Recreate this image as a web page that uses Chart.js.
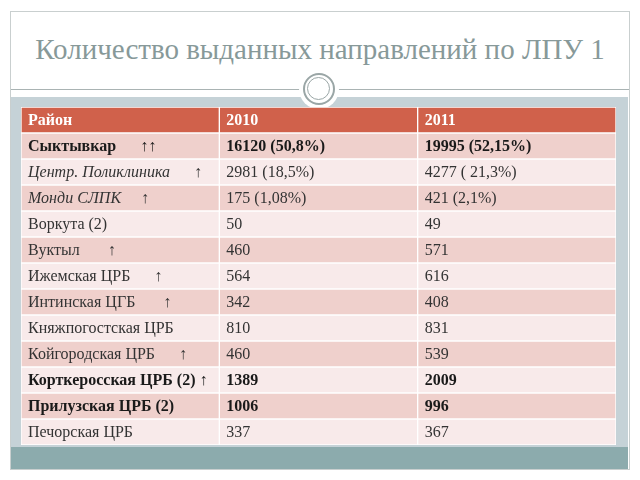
<!DOCTYPE html>
<html lang="ru">
<head>
    <meta charset="UTF-8">
    <title>Количество выданных направлений по ЛПУ 1</title>
    <script src="https://cdn.jsdelivr.net/npm/chart.js"></script>
    <style>
        body { margin: 0; width: 640px; height: 480px; background: #fff; overflow: hidden; position: relative; font-family: "Liberation Serif", serif; }
        .frame { position: absolute; left: 10px; top: 11px; width: 618px; height: 457px; border: 1px solid #c9cfcf; }
        .title { position: absolute; left: 0; top: 33px; width: 640px; text-align: center; font-size: 29px; color: #879999; white-space: nowrap; }
        .rule { position: absolute; left: 11px; top: 89px; width: 618px; height: 1px; background: #a9b3b3; }
        .panel { position: absolute; left: 11px; top: 97px; width: 617px; height: 350px; background: #c5d2d7; }
        .footer { position: absolute; left: 11px; top: 447px; width: 617px; height: 22px; background: #8cabad; }
        .halo { position: absolute; left: 299px; top: 69px; width: 40px; height: 40px; border-radius: 50%; background: #fff; }
        .ring { position: absolute; left: 303px; top: 73px; width: 28px; height: 28px; border-radius: 50%; border: 2px solid #9aa6a6; }
        .ring2 { position: absolute; left: 307px; top: 77px; width: 21px; height: 21px; border-radius: 50%; border: 1.5px solid #9aa6a6; }
        .table-box { position: absolute; left: 21px; top: 107px; width: 595px; height: 338px; }
    </style>
</head>
<body>
    <div class="frame"></div>
    <div class="title">Количество выданных направлений по ЛПУ 1</div>
    <div class="panel"></div>
    <div class="footer"></div>
    <div class="rule"></div>
    <div class="halo"></div>
    <div class="ring"></div>
    <div class="ring2"></div>
    <div class="table-box"><canvas id="tableChart"></canvas></div>

    <script>
        // table contents
        const headers = ['Район', '2010', '2011'];
        const districts = [
            'Сыктывкар      ↑↑',
            'Центр. Поликлиника      ↑',
            'Монди СЛПК     ↑',
            'Воркута (2)',
            'Вуктыл       ↑',
            'Ижемская ЦРБ      ↑',
            'Интинская ЦГБ       ↑',
            'Княжпогостская ЦРБ',
            'Койгородская ЦРБ      ↑',
            'Корткеросская ЦРБ (2) ↑',
            'Прилузская ЦРБ (2)',
            'Печорская ЦРБ'
        ];
        const values2010 = ['16120 (50,8%)', '2981 (18,5%)', '175 (1,08%)', '50', '460', '564', '342', '810', '460', '1389', '1006', '337'];
        const values2011 = ['19995 (52,15%)', '4277 ( 21,3%)', '421 (2,1%)', '49', '571', '616', '408', '831', '539', '2009', '996', '367'];
        const boldRows = [0, 9, 10];
        const italicRows = [1, 2];

        const rowLabels = ['header'].concat(districts.map((d, i) => 'r' + i));
        const columns = [headers[0], headers[1], headers[2]];
        const cellText = [
            [headers[0]].concat(districts),
            [headers[1]].concat(values2010),
            [headers[2]].concat(values2011)
        ];

        const rowColor = (i) => i === 0 ? '#d0614b' : (i % 2 === 1 ? '#efd0cc' : '#f8eaea');

        const cellTextPlugin = {
            id: 'cellText',
            afterDatasetsDraw(chart) {
                const ctx = chart.ctx;
                ctx.save();
                ctx.textBaseline = 'middle';
                ctx.textAlign = 'left';
                chart.data.datasets.forEach((ds, c) => {
                    const meta = chart.getDatasetMeta(c);
                    meta.data.forEach((bar, r) => {
                        const left = Math.min(bar.x, bar.base);
                        const dataRow = r - 1;
                        let weight = '';
                        let style = '';
                        if (r === 0 || boldRows.includes(dataRow)) weight = 'bold ';
                        if (c === 0 && italicRows.includes(dataRow)) style = 'italic ';
                        ctx.font = style + weight + '16px "Liberation Serif", serif';
                        ctx.fillStyle = r === 0 ? '#ffffff' : (weight ? '#1a1a1a' : '#333333');
                        ctx.fillText(cellText[c][r], left + 7, bar.y + 1);
                    });
                });
                ctx.restore();
            }
        };

        new Chart(document.getElementById('tableChart'), {
            type: 'bar',
            data: {
                labels: rowLabels,
                datasets: columns.map((name, c) => ({
                    label: name,
                    data: rowLabels.map(() => [c, c + 1]),
                    backgroundColor: rowLabels.map((l, i) => rowColor(i)),
                    borderColor: '#ffffff',
                    borderWidth: 1,
                    borderSkipped: false,
                    barPercentage: 1,
                    categoryPercentage: 1,
                    grouped: false
                }))
            },
            options: {
                indexAxis: 'y',
                responsive: true,
                maintainAspectRatio: false,
                animation: false,
                layout: { padding: 0 },
                scales: {
                    x: { type: 'linear', min: 0, max: 3, display: false },
                    y: { type: 'category', display: false }
                },
                plugins: {
                    legend: { display: false },
                    tooltip: { enabled: false }
                }
            },
            plugins: [cellTextPlugin]
        });
    </script>
</body>
</html>
